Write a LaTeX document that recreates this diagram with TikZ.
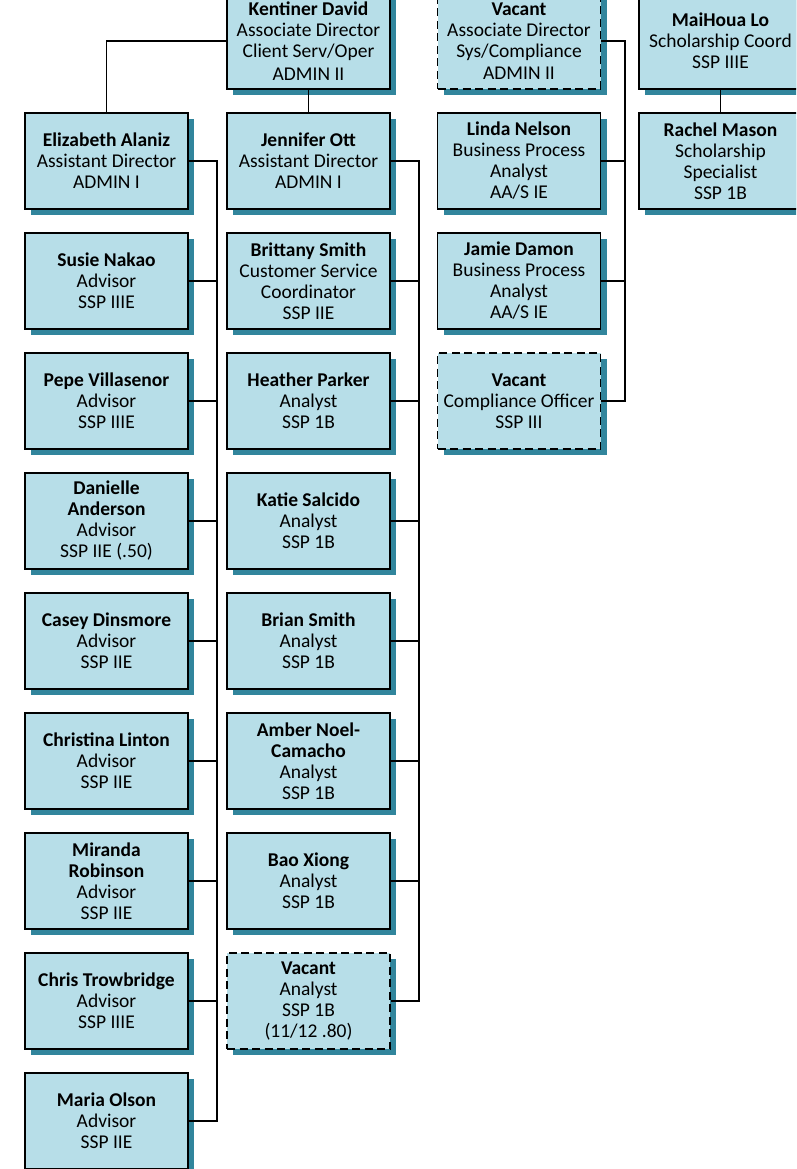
\documentclass[tikz,border=0pt]{standalone}
\usepackage{fontspec}
\setmainfont{Carlito}
\usetikzlibrary{positioning, shadows, calc}
\definecolor{posfill}{HTML}{B7DEE8}
\definecolor{posshadow}{HTML}{31859C}

\begin{document}
\begin{tikzpicture}[x=1pt, y=-1pt,
  box/.style={rectangle, draw, line width=1.7pt, fill=posfill, minimum width=163pt, minimum height=96pt,
    inner sep=0pt, font=\fontsize{19.5}{21}\selectfont, align=center,
    drop shadow={shadow xshift=6pt, shadow yshift=-6pt, fill=posshadow, opacity=1}},
  vacbox/.style={box, dash pattern=on 8pt off 4.5pt},
  conn/.style={line width=1.5pt}
]
  \useasboundingbox (0,0) rectangle (796,1169);
  \clip (0,0) rectangle (796,1169);

  % Directors
  \node[box] (kdavid) at (308.5,41) {\textbf{Kentiner David}\\Associate Director\\Client Serv/Oper\\[2pt]ADMIN II};
  \node[vacbox] (vacassoc) at (519,41) {\textbf{Vacant}\\Associate Director\\Sys/Compliance\\[1pt]ADMIN II};
  \node[box] (mlo) at (720.5,41) {\textbf{MaiHoua Lo}\\Scholarship Coord\\SSP IIIE};

  % Advisors
  \node[box] (ealaniz) at (106.5,161) {\textbf{Elizabeth Alaniz}\\Assistant Director\\ADMIN I};
  \node[box] (snakao) at (106.5,281) {\textbf{Susie Nakao}\\Advisor\\SSP IIIE};
  \node[box] (pvillasenor) at (106.5,401) {\textbf{Pepe Villasenor}\\Advisor\\SSP IIIE};
  \node[box] (danderson) at (106.5,521) {\textbf{Danielle}\\\textbf{Anderson}\\Advisor\\SSP IIE (.50)};
  \node[box] (cdinsmore) at (106.5,641) {\textbf{Casey Dinsmore}\\Advisor\\SSP IIE};
  \node[box] (clinton) at (106.5,761) {\textbf{Christina Linton}\\Advisor\\SSP IIE};
  \node[box] (mrobinson) at (106.5,881) {\textbf{Miranda}\\\textbf{Robinson}\\Advisor\\SSP IIE};
  \node[box] (ctrowbridge) at (106.5,1001) {\textbf{Chris Trowbridge}\\Advisor\\SSP IIIE};
  \node[box] (molson) at (106.5,1121) {\textbf{Maria Olson}\\Advisor\\SSP IIE};

  % Analysts
  \node[box] (jott) at (308.5,161) {\textbf{Jennifer Ott}\\Assistant Director\\ADMIN I};
  \node[box] (bsmith) at (308.5,281) {\textbf{Brittany Smith}\\Customer Service\\Coordinator\\SSP IIE};
  \node[box] (hparker) at (308.5,401) {\textbf{Heather Parker}\\Analyst\\SSP 1B};
  \node[box] (ksalcido) at (308.5,521) {\textbf{Katie Salcido}\\Analyst\\SSP 1B};
  \node[box] (brsmith) at (308.5,641) {\textbf{Brian Smith}\\Analyst\\SSP 1B};
  \node[box] (anoel) at (308.5,761) {\textbf{Amber Noel-}\\\textbf{Camacho}\\Analyst\\SSP 1B};
  \node[box] (bxiong) at (308.5,881) {\textbf{Bao Xiong}\\Analyst\\SSP 1B};
  \node[vacbox] (vacanalyst) at (308.5,1001) {\textbf{Vacant}\\Analyst\\SSP 1B\\(11/12 .80)};

  % Systems / compliance
  \node[box] (lnelson) at (519,161) {\textbf{Linda Nelson}\\Business Process\\Analyst\\AA/S IE};
  \node[box] (jdamon) at (519,281) {\textbf{Jamie Damon}\\Business Process\\Analyst\\AA/S IE};
  \node[vacbox] (vaccomp) at (519,401) {\textbf{Vacant}\\Compliance Officer\\SSP III};

  % Scholarships
  \node[box] (rmason) at (720.5,161) {\textbf{Rachel Mason}\\Scholarship\\Specialist\\SSP 1B};

  % Reporting lines
  \coordinate (abus) at (217,0);
  \coordinate (jbus) at (419,0);
  \coordinate (vbus) at (625,0);

  \draw[conn] (kdavid.west) -| (ealaniz.north);
  \draw[conn] (kdavid.south) -- (jott.north);
  \draw[conn] (mlo.south) -- (rmason.north);

  \draw[conn] (ealaniz.east) -- (ealaniz.east -| abus) -- (molson.east -| abus) -- (molson.east);
  \draw[conn] (snakao.east) -- (snakao.east -| abus);
  \draw[conn] (pvillasenor.east) -- (pvillasenor.east -| abus);
  \draw[conn] (danderson.east) -- (danderson.east -| abus);
  \draw[conn] (cdinsmore.east) -- (cdinsmore.east -| abus);
  \draw[conn] (clinton.east) -- (clinton.east -| abus);
  \draw[conn] (mrobinson.east) -- (mrobinson.east -| abus);
  \draw[conn] (ctrowbridge.east) -- (ctrowbridge.east -| abus);

  \draw[conn] (jott.east) -- (jott.east -| jbus) -- (vacanalyst.east -| jbus) -- (vacanalyst.east);
  \draw[conn] (bsmith.east) -- (bsmith.east -| jbus);
  \draw[conn] (hparker.east) -- (hparker.east -| jbus);
  \draw[conn] (ksalcido.east) -- (ksalcido.east -| jbus);
  \draw[conn] (brsmith.east) -- (brsmith.east -| jbus);
  \draw[conn] (anoel.east) -- (anoel.east -| jbus);
  \draw[conn] (bxiong.east) -- (bxiong.east -| jbus);

  \draw[conn] (vacassoc.east) -- (vacassoc.east -| vbus) -- (vaccomp.east -| vbus) -- (vaccomp.east);
  \draw[conn] (lnelson.east) -- (lnelson.east -| vbus);
  \draw[conn] (jdamon.east) -- (jdamon.east -| vbus);

\end{tikzpicture}
\end{document}
